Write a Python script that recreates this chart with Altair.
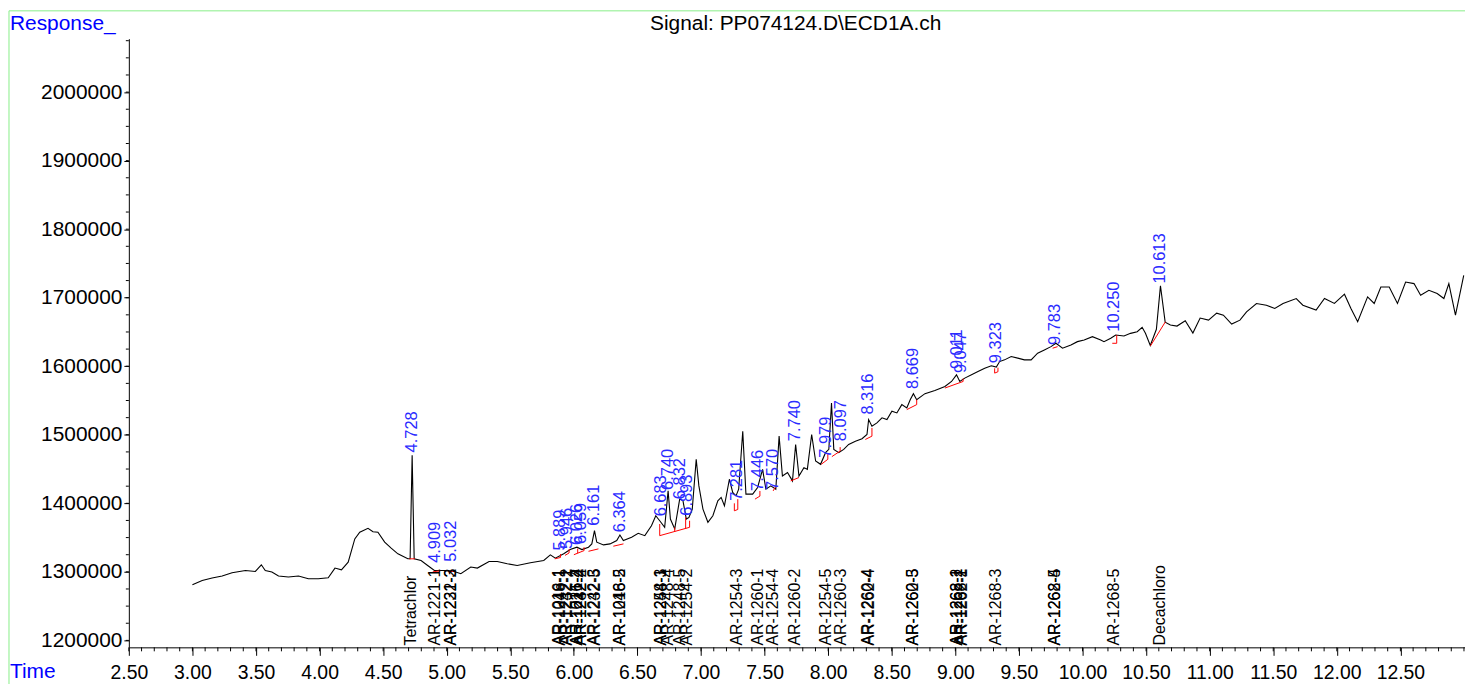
import altair as alt
import pandas as pd

# ---------------- data ----------------
time_min = [
    3.000, 3.077, 3.155, 3.234, 3.312, 3.417, 3.495, 3.542, 3.573, 3.625,
    3.677, 3.755, 3.834, 3.912, 3.990, 4.068, 4.121, 4.172, 4.225, 4.277,
    4.316, 4.381, 4.420, 4.459, 4.512, 4.563, 4.616, 4.694, 4.712, 4.728,
    4.744, 4.798, 4.850, 4.903, 4.981, 5.059, 5.111, 5.189, 5.241, 5.333,
    5.398, 5.476, 5.554, 5.658, 5.763, 5.815, 5.854, 5.920, 5.971, 6.024,
    6.063, 6.115, 6.141, 6.162, 6.180, 6.233, 6.284, 6.337, 6.362, 6.389,
    6.454, 6.506, 6.558, 6.610, 6.644, 6.675, 6.714, 6.741, 6.759, 6.793,
    6.832, 6.858, 6.884, 6.905, 6.931, 6.962, 6.983, 7.015, 7.054, 7.093,
    7.132, 7.158, 7.184, 7.223, 7.249, 7.275, 7.296, 7.328, 7.353, 7.406,
    7.445, 7.484, 7.510, 7.549, 7.588, 7.614, 7.640, 7.680, 7.719, 7.744,
    7.770, 7.809, 7.836, 7.870, 7.901, 7.940, 7.979, 8.005, 8.026, 8.044,
    8.083, 8.122, 8.161, 8.214, 8.266, 8.305, 8.318, 8.344, 8.383, 8.423,
    8.462, 8.501, 8.540, 8.579, 8.618, 8.645, 8.670, 8.696, 8.761, 8.839,
    8.918, 8.970, 9.009, 9.035, 9.074, 9.127, 9.178, 9.231, 9.283, 9.322,
    9.348, 9.387, 9.439, 9.491, 9.543, 9.596, 9.647, 9.700, 9.752, 9.791,
    9.843, 9.909, 9.960, 10.013, 10.078, 10.143, 10.169, 10.222, 10.261, 10.326,
    10.378, 10.430, 10.469, 10.495, 10.533, 10.581, 10.613, 10.650, 10.691, 10.743,
    10.808, 10.868, 10.925, 10.991, 11.055, 11.108, 11.173, 11.238, 11.290, 11.368,
    11.446, 11.512, 11.577, 11.681, 11.733, 11.837, 11.903, 11.981, 12.060, 12.111,
    12.164, 12.242, 12.294, 12.346, 12.412, 12.477, 12.541, 12.607, 12.659, 12.724,
    12.789, 12.842, 12.881, 12.933, 12.998,
]
response = [
    1281300, 1287500, 1291000, 1293900, 1298700, 1302000, 1300600, 1310300, 1302000, 1299700,
    1293900, 1292500, 1293900, 1290000, 1290000, 1291400, 1305500, 1303000, 1314200, 1348000,
    1357800, 1363600, 1358600, 1357800, 1343300, 1334500, 1326300, 1319000, 1319000, 1470000,
    1319000, 1316500, 1309300, 1302000, 1302000, 1300600, 1297200, 1307000, 1305500, 1315100,
    1315100, 1311800, 1309300, 1313200, 1316500, 1324800, 1320000, 1326300, 1332500, 1336000,
    1332500, 1336000, 1340800, 1360100, 1343300, 1339300, 1340800, 1345600, 1353800, 1345600,
    1350500, 1356300, 1352800, 1367300, 1381900, 1374600, 1365000, 1418100, 1377100, 1362600,
    1406100, 1403600, 1377100, 1379500, 1391600, 1464200, 1425400, 1391600, 1372300, 1381900,
    1403600, 1408600, 1396400, 1435100, 1415800, 1410900, 1420600, 1505200, 1413400, 1413400,
    1423100, 1449600, 1420600, 1425400, 1420600, 1498000, 1439900, 1444900, 1432700, 1485900,
    1439900, 1452100, 1449600, 1500400, 1461700, 1456900, 1473900, 1478700, 1546400, 1478700,
    1473900, 1478700, 1485900, 1490700, 1494200, 1500400, 1522200, 1512500, 1517400, 1524700,
    1522200, 1534300, 1531900, 1544000, 1539200, 1551200, 1560000, 1551200, 1560000, 1564700,
    1570500, 1577800, 1587500, 1577800, 1582700, 1587500, 1592300, 1597200, 1600600, 1598700,
    1606800, 1609300, 1614100, 1611800, 1609300, 1609300, 1619000, 1623800, 1628600, 1633500,
    1626300, 1631100, 1635900, 1638300, 1643100, 1638300, 1635900, 1640800, 1645600, 1644100,
    1648000, 1650400, 1656800, 1648000, 1630300, 1653900, 1717400, 1664400, 1660100, 1658600,
    1666300, 1648500, 1670300, 1667300, 1677500, 1674600, 1661500, 1667300, 1679400, 1691600,
    1689100, 1684300, 1691600, 1698800, 1689100, 1681900, 1698800, 1691600, 1705100, 1684300,
    1664900, 1701200, 1691600, 1715700, 1715700, 1691600, 1722900, 1720600, 1703600, 1710900,
    1706100, 1698800, 1720600, 1674600, 1732700,
]

# integrated peaks: retention time and the response where its label starts
peak_rt = [4.728, 4.909, 5.032, 5.889, 5.946, 6.026, 6.059, 6.161, 6.364,
           6.683, 6.740, 6.832, 6.893, 7.281, 7.446, 7.570, 7.740, 7.979,
           8.097, 8.316, 8.669, 9.011, 9.047, 9.323, 9.783, 10.250, 10.613]
peak_label_base = [1474300, 1313200, 1314700, 1331000, 1333500, 1339300, 1340800,
                   1367300, 1357800, 1381000, 1419600, 1406100, 1381900, 1403600,
                   1418100, 1419600, 1490700, 1466600, 1490700, 1529500, 1566800,
                   1595800, 1590000, 1604500, 1631100, 1650400, 1720600]

# red integration baselines (start time/resp -> end time/resp)
bl_t1 = [4.705, 4.890, 5.010, 5.850, 5.895, 5.930, 5.962, 6.000, 6.030, 6.080,
         6.115, 6.310, 6.675, 6.675, 6.793, 6.879, 6.910, 7.262, 7.262, 7.289,
         7.424, 7.463, 7.567, 7.705, 7.945, 7.997, 8.029, 8.094, 8.292, 8.344,
         8.618, 8.696, 8.918, 9.061, 9.309, 9.309, 9.335, 9.765, 10.234, 10.269,
         10.534]
bl_r1 = [1319000, 1300000, 1300000, 1319000, 1321000, 1324000, 1327500, 1325000, 1327200, 1331000,
         1330000, 1337400, 1352800, 1352800, 1358600, 1362600, 1365000, 1389100, 1389100, 1391000,
         1406100, 1410500, 1418100, 1432700, 1456900, 1464200, 1468100, 1476200, 1493200, 1498000,
         1536700, 1544000, 1568200, 1577800, 1590000, 1590000, 1592000, 1626300, 1633500, 1633500,
         1629600]
bl_t2 = [4.750, 4.950, 5.050, 5.895, 5.895, 5.962, 5.962, 6.080, 6.030, 6.080,
         6.193, 6.390, 6.910, 6.675, 6.793, 6.879, 6.910, 7.289, 7.262, 7.289,
         7.463, 7.463, 7.583, 7.770, 7.997, 7.997, 8.094, 8.094, 8.344, 8.344,
         8.696, 8.696, 9.061, 9.061, 9.335, 9.309, 9.335, 9.804, 10.269, 10.269,
         10.652]
bl_r2 = [1319000, 1301500, 1300800, 1321000, 1326000, 1327500, 1333000, 1331000, 1334000, 1336000,
         1333500, 1340800, 1365000, 1369800, 1365000, 1379500, 1374600, 1391000, 1400000, 1406100,
         1410500, 1418000, 1423100, 1437600, 1464200, 1473000, 1476200, 1482000, 1498000, 1510000,
         1544000, 1551200, 1577800, 1582000, 1592000, 1597000, 1598000, 1628600, 1633500, 1645600,
         1664900]

# compound identification labels along the bottom
compound_names = ["Tetrachlor", "AR-1221-1", "AR-1221-2", "AR-1232-3",
                  "AR-1016-1", "AR-1248-1", "AR-1242-1", "AR-1232-2", "AR-1016-2",
                  "AR-1221-4", "AR-1242-2", "AR-1232-4", "AR-1242-3", "AR-1232-5",
                  "AR-1016-5", "AR-1248-2", "AR-1254-1", "AR-1248-3", "AR-1248-4",
                  "AR-1248-5", "AR-1254-2", "AR-1254-3", "AR-1260-1", "AR-1254-4",
                  "AR-1260-2", "AR-1254-5", "AR-1260-3", "AR-1260-4", "AR-1262-4",
                  "AR-1260-5", "AR-1262-3", "AR-1268-1", "AR-1262-2", "AR-1268-2",
                  "AR-1262-1", "AR-1268-3", "AR-1268-4", "AR-1262-5", "AR-1268-5",
                  "Decachloro"]
compound_rt = [4.720, 4.909, 5.030, 5.034,
               5.885, 5.889, 5.942, 5.946, 6.022,
               6.026, 6.055, 6.059, 6.161, 6.165,
               6.364, 6.366, 6.683, 6.686, 6.740,
               6.832, 6.893, 7.281, 7.446, 7.570,
               7.740, 7.979, 8.097, 8.316, 8.318,
               8.669, 8.671, 9.011, 9.013, 9.047,
               9.049, 9.323, 9.783, 9.785, 10.250,
               10.613]
compound_label_base = 1192500

x_major = [2.5 + 0.5 * i for i in range(21)]
x_minor = [round(2.5 + 0.1 * i, 2) for i in range(106)]
y_major = [1200000 + 100000 * i for i in range(9)]
y_minor = [1200000 + 25000 * i for i in range(36)]

# ---------------- chart ----------------
W, H = 1343.5, 612
FONT = "Liberation Sans"
xs = alt.Scale(domain=[2.5, 13.008], nice=False, zero=False)
ys = alt.Scale(domain=[1189840, 2077940], nice=False, zero=False)

trace_df = pd.DataFrame({"t": time_min, "r": response})
peaks_df = pd.DataFrame({"t": peak_rt, "r": peak_label_base,
                         "lab": [f"{v:.3f}" for v in peak_rt]})
bl_df = pd.DataFrame({"t1": bl_t1, "r1": bl_r1, "t2": bl_t2, "r2": bl_r2})
comp_df = pd.DataFrame({"t": compound_rt, "name": compound_names,
                        "r": [compound_label_base] * len(compound_rt)})
one = pd.DataFrame({"k": [0]})

trace = alt.Chart(trace_df).mark_line(color="black", strokeWidth=1.1).encode(
    x=alt.X("t:Q", scale=xs, axis=alt.Axis(
        values=x_major, format=".2f", title=None, grid=False,
        labelFont=FONT, labelFontSize=19.5, labelColor="black",
        tickColor="black", domainColor="black", tickSize=8, labelPadding=8,
        labelFlush=False, labelOverlap=False)),
    y=alt.Y("r:Q", scale=ys, axis=alt.Axis(
        values=y_major, format="d", title=None, grid=False,
        labelFont=FONT, labelFontSize=21, labelColor="black",
        tickColor="black", domainColor="black", tickSize=5, labelPadding=2,
        labelOverlap=False)),
)

baselines = alt.Chart(bl_df).mark_rule(color="red", strokeWidth=1).encode(
    x=alt.X("t1:Q", scale=xs), y=alt.Y("r1:Q", scale=ys),
    x2="t2:Q", y2="r2:Q",
)

peak_labels = alt.Chart(peaks_df).mark_text(
    angle=270, align="left", baseline="middle", color="#2b2bff",
    font=FONT, fontSize=16.5,
).encode(
    x=alt.X("t:Q", scale=xs), y=alt.Y("r:Q", scale=ys),
    text="lab:N",
)

comp_labels = alt.Chart(comp_df).mark_text(
    angle=270, align="left", baseline="middle", color="black",
    font=FONT, fontSize=16,
).encode(
    x=alt.X("t:Q", scale=xs), y=alt.Y("r:Q", scale=ys),
    text="name:N",
)

x_minor_ticks = alt.Chart(pd.DataFrame({"v": x_minor})).mark_rule(
    color="black", strokeWidth=1).encode(
    x=alt.X("v:Q", scale=xs), y=alt.value(H), y2=alt.value(H + 4))

y_minor_ticks = alt.Chart(pd.DataFrame({"v": y_minor})).mark_rule(
    color="black", strokeWidth=1).encode(
    y=alt.Y("v:Q", scale=ys), x=alt.value(0), x2=alt.value(-3))

title = alt.Chart(one).mark_text(
    font=FONT, fontSize=21, color="black", align="center", baseline="middle"
).encode(x=alt.value(670.5), y=alt.value(-15),
         text=alt.value("Signal: PP074124.D\\ECD1A.ch"))

resp_lab = alt.Chart(one).mark_text(
    font=FONT, fontSize=21, color="#0000ff", align="left", baseline="middle"
).encode(x=alt.value(-119.5), y=alt.value(-15), text=alt.value("Response_"))

time_lab = alt.Chart(one).mark_text(
    font=FONT, fontSize=21, color="#0000ff", align="left", baseline="middle"
).encode(x=alt.value(-119.5), y=alt.value(637), text=alt.value("Time"))

frame_top = alt.Chart(one).mark_rule(color="#88ee88", strokeWidth=1).encode(
    x=alt.value(-120.5), x2=alt.value(W + 10), y=alt.value(-28))
frame_left = alt.Chart(one).mark_rule(color="#88ee88", strokeWidth=1).encode(
    x=alt.value(-120.5), y=alt.value(-28), y2=alt.value(H + 60))

chart = alt.layer(
    trace, frame_top, frame_left, x_minor_ticks, y_minor_ticks,
    baselines, peak_labels, comp_labels, title, resp_lab, time_lab,
).properties(
    width=W, height=H,
    autosize=alt.AutoSizeParams(type="none"),
    padding={"left": 121.5, "top": 29, "right": 0, "bottom": 35},
).configure_view(stroke=None)

chart.save("out.html", embed_options={"renderer": "svg", "actions": False})
